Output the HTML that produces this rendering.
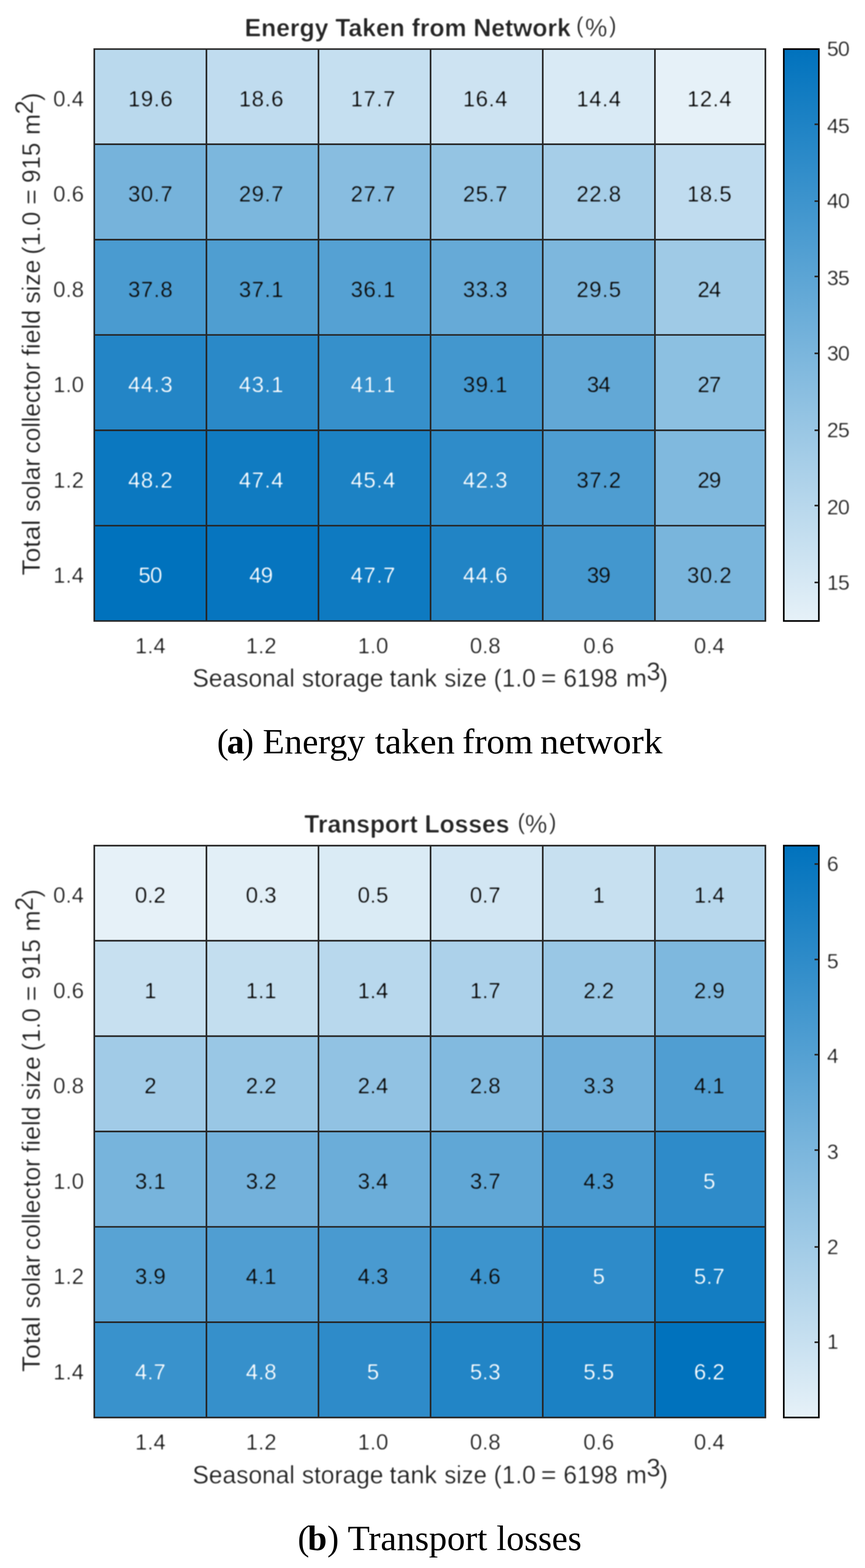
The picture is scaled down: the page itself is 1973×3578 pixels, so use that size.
<!DOCTYPE html>
<html lang="en">
<head>
<meta charset="utf-8">
<title>Heatmaps</title>
<style>
html,body{margin:0;padding:0;background:#fff;}
body{width:1973px;height:3578px;overflow:hidden;}
svg{display:block;}
text{font-family:"Liberation Sans",Arial,Helvetica,sans-serif;fill:#262626;}
.ct text{font-size:50.5px;fill:#0d0d0d;}
.ct text.w{fill:#f6fafd;}
.tk text{font-size:50.5px;}
.cb text{font-size:48.5px;}
text.n{letter-spacing:-1.6px;}
text.q{letter-spacing:1.2px;}
.lb{font-size:57.5px;}
.tt{font-size:57px;font-weight:bold;}
.pc{font-size:57px;}
.pp{font-size:51.5px;}
.cap{font-family:"Liberation Serif","Times New Roman",serif;font-size:79.5px;fill:#000;}
.cap .b{font-weight:bold;}
</style>
</head>
<body>
<svg width="1973" height="3578" viewBox="0 0 1973 3578">
<defs>
<filter id="bt" x="-5%" y="-5%" width="110%" height="110%" color-interpolation-filters="sRGB"><feGaussianBlur stdDeviation="1.2"/><feComponentTransfer><feFuncA type="linear" slope="1.7" intercept="-0.5"/></feComponentTransfer><feGaussianBlur stdDeviation="0.9"/></filter>
<filter id="bb" x="-5%" y="-5%" width="110%" height="110%" color-interpolation-filters="sRGB"><feGaussianBlur stdDeviation="1.3"/><feComponentTransfer><feFuncA type="linear" slope="1.9" intercept="-0.7"/></feComponentTransfer><feGaussianBlur stdDeviation="0.9"/></filter>
<filter id="bl" x="-5%" y="-5%" width="110%" height="110%" color-interpolation-filters="sRGB"><feGaussianBlur stdDeviation="0.35"/></filter>
<linearGradient id="cg" x1="0" y1="0" x2="0" y2="1">
<stop offset="0" stop-color="#0072bd"/>
<stop offset="1" stop-color="#e6f1f8"/>
</linearGradient>
</defs>
<rect width="1973" height="3578" fill="#fff"/>
<g transform="translate(0,0)">
<g filter="url(#bl)">
<rect x="215.05" y="112" width="256.3" height="217.6" fill="#bad9ed"/>
<rect x="470.85" y="112" width="256.1" height="217.6" fill="#c0dcef"/>
<rect x="726.45" y="112" width="256.15" height="217.6" fill="#c5dff0"/>
<rect x="982.1" y="112" width="256.4" height="217.6" fill="#cde3f2"/>
<rect x="1238" y="112" width="256.35" height="217.6" fill="#d9eaf5"/>
<rect x="1493.85" y="112" width="252.45" height="217.6" fill="#e6f1f8"/>
<rect x="215.05" y="329.1" width="256.3" height="218.2" fill="#76b3db"/>
<rect x="470.85" y="329.1" width="256.1" height="218.2" fill="#7cb7dd"/>
<rect x="726.45" y="329.1" width="256.15" height="218.2" fill="#88bde0"/>
<rect x="982.1" y="329.1" width="256.4" height="218.2" fill="#94c4e3"/>
<rect x="1238" y="329.1" width="256.35" height="218.2" fill="#a6cee8"/>
<rect x="1493.85" y="329.1" width="252.45" height="218.2" fill="#c0dcef"/>
<rect x="215.05" y="546.8" width="256.3" height="217.95" fill="#4a9bd0"/>
<rect x="470.85" y="546.8" width="256.1" height="217.95" fill="#4f9ed1"/>
<rect x="726.45" y="546.8" width="256.15" height="217.95" fill="#55a1d3"/>
<rect x="982.1" y="546.8" width="256.4" height="217.95" fill="#66aad7"/>
<rect x="1238" y="546.8" width="256.35" height="217.95" fill="#7db7dd"/>
<rect x="1493.85" y="546.8" width="252.45" height="217.95" fill="#9fcae6"/>
<rect x="215.05" y="764.25" width="256.3" height="218.15" fill="#2385c6"/>
<rect x="470.85" y="764.25" width="256.1" height="218.15" fill="#2a89c8"/>
<rect x="726.45" y="764.25" width="256.15" height="218.15" fill="#3690cb"/>
<rect x="982.1" y="764.25" width="256.4" height="218.15" fill="#4397ce"/>
<rect x="1238" y="764.25" width="256.35" height="218.15" fill="#62a8d6"/>
<rect x="1493.85" y="764.25" width="252.45" height="218.15" fill="#8cc0e1"/>
<rect x="215.05" y="981.9" width="256.3" height="218.1" fill="#0b78c0"/>
<rect x="470.85" y="981.9" width="256.1" height="218.1" fill="#107bc1"/>
<rect x="726.45" y="981.9" width="256.15" height="218.1" fill="#1c82c4"/>
<rect x="982.1" y="981.9" width="256.4" height="218.1" fill="#2f8cc9"/>
<rect x="1238" y="981.9" width="256.35" height="218.1" fill="#4e9dd1"/>
<rect x="1493.85" y="981.9" width="252.45" height="218.1" fill="#80b9de"/>
<rect x="215.05" y="1199.5" width="256.3" height="218" fill="#0072bd"/>
<rect x="470.85" y="1199.5" width="256.1" height="218" fill="#0675bf"/>
<rect x="726.45" y="1199.5" width="256.15" height="218" fill="#0e7ac1"/>
<rect x="982.1" y="1199.5" width="256.4" height="218" fill="#2184c5"/>
<rect x="1238" y="1199.5" width="256.35" height="218" fill="#4397ce"/>
<rect x="1493.85" y="1199.5" width="252.45" height="218" fill="#79b5dc"/>
<path d="M215.05 110.15V1418.85M213.2 112H1747.65M470.85 110.15V1418.85M213.2 329.1H1747.65M726.45 110.15V1418.85M213.2 546.8H1747.65M982.1 110.15V1418.85M213.2 764.25H1747.65M1238 110.15V1418.85M213.2 981.9H1747.65M1493.85 110.15V1418.85M213.2 1199.5H1747.65M1745.8 110.15V1418.85M213.2 1417H1747.65" stroke="#262626" stroke-width="3.7" fill="none"/>
</g>
<g filter="url(#bt)">
<g class="ct" text-anchor="middle">
<text class="q" x="343.55" y="242.55">19.6</text>
<text class="q" x="596.25" y="242.55">18.6</text>
<text class="q" x="851.38" y="242.55">17.7</text>
<text class="q" x="1107.35" y="242.55">16.4</text>
<text class="q" x="1366.32" y="242.55">14.4</text>
<text class="q" x="1618.52" y="242.55">12.4</text>
<text class="q" x="343.55" y="459.95">30.7</text>
<text class="q" x="596.25" y="459.95">29.7</text>
<text class="q" x="851.38" y="459.95">27.7</text>
<text class="q" x="1107.35" y="459.95">25.7</text>
<text class="q" x="1366.32" y="459.95">22.8</text>
<text class="q" x="1618.52" y="459.95">18.5</text>
<text class="q" x="343.55" y="677.52">37.8</text>
<text class="q" x="596.25" y="677.52">37.1</text>
<text class="q" x="851.38" y="677.52">36.1</text>
<text class="q" x="1107.35" y="677.52">33.3</text>
<text class="q" x="1366.32" y="677.52">29.5</text>
<text class="n" x="1617.12" y="677.52">24</text>
<text class="w q" x="343.55" y="895.08">44.3</text>
<text class="w q" x="596.25" y="895.08">43.1</text>
<text class="w q" x="851.38" y="895.08">41.1</text>
<text class="q" x="1107.35" y="895.08">39.1</text>
<text class="n" x="1364.92" y="895.08">34</text>
<text class="n" x="1617.12" y="895.08">27</text>
<text class="w q" x="343.55" y="1112.7">48.2</text>
<text class="w q" x="596.25" y="1112.7">47.4</text>
<text class="w q" x="851.38" y="1112.7">45.4</text>
<text class="w q" x="1107.35" y="1112.7">42.3</text>
<text class="q" x="1366.32" y="1112.7">37.2</text>
<text class="n" x="1617.12" y="1112.7">29</text>
<text class="w n" x="342.15" y="1330.25">50</text>
<text class="w n" x="594.85" y="1330.25">49</text>
<text class="w q" x="851.38" y="1330.25">47.7</text>
<text class="w q" x="1107.35" y="1330.25">44.6</text>
<text class="n" x="1364.92" y="1330.25">39</text>
<text class="q" x="1618.52" y="1330.25">30.2</text>
</g>
<g class="tk" text-anchor="middle">
<text x="342.95" y="1490.8">1.4</text>
<text x="595.65" y="1490.8">1.2</text>
<text x="850.78" y="1490.8">1.0</text>
<text x="1106.75" y="1490.8">0.8</text>
<text x="1365.72" y="1490.8">0.6</text>
<text x="1617.92" y="1490.8">0.4</text>
</g>
<g class="tk" text-anchor="end">
<text x="191.5" y="242.55">0.4</text>
<text x="191.5" y="459.95">0.6</text>
<text x="191.5" y="677.52">0.8</text>
<text x="191.5" y="895.08">1.0</text>
<text x="191.5" y="1112.7">1.2</text>
<text x="191.5" y="1330.25">1.4</text>
</g>
<text class="lb"><tspan x="439" y="1567.4" textLength="233.5" lengthAdjust="spacingAndGlyphs">Seasonal</tspan> <tspan x="688.5" y="1567.4" textLength="186" lengthAdjust="spacingAndGlyphs">storage</tspan> <tspan x="888.5" y="1567.4" textLength="108.5" lengthAdjust="spacingAndGlyphs">tank</tspan> <tspan x="1013.5" y="1567.4" textLength="97" lengthAdjust="spacingAndGlyphs">size</tspan> <tspan x="1126" y="1567.4" textLength="96" lengthAdjust="spacingAndGlyphs">(1.0</tspan> <tspan x="1233.5" y="1567.4" textLength="36" lengthAdjust="spacingAndGlyphs">=</tspan> <tspan x="1285" y="1567.4" textLength="124" lengthAdjust="spacingAndGlyphs">6198</tspan> <tspan x="1427.5" y="1567.4" textLength="48" lengthAdjust="spacingAndGlyphs">m</tspan><tspan x="1474.5" y="1551.6">3</tspan><tspan x="1504.5" y="1567.4">)</tspan></text>
<text class="lb" transform="translate(91,0) rotate(-90)"><tspan x="-1313.2" y="0" textLength="127" lengthAdjust="spacingAndGlyphs">Total</tspan> <tspan x="-1168" y="0" textLength="122" lengthAdjust="spacingAndGlyphs">solar</tspan> <tspan x="-1035" y="0" textLength="208.5" lengthAdjust="spacingAndGlyphs">collector</tspan> <tspan x="-812.5" y="0" textLength="105.5" lengthAdjust="spacingAndGlyphs">field</tspan> <tspan x="-693" y="0" textLength="100.3" lengthAdjust="spacingAndGlyphs">size</tspan> <tspan x="-581" y="0" textLength="98" lengthAdjust="spacingAndGlyphs">(1.0</tspan> <tspan x="-467.5" y="0" textLength="36" lengthAdjust="spacingAndGlyphs">=</tspan> <tspan x="-417.5" y="0" textLength="92" lengthAdjust="spacingAndGlyphs">915</tspan> <tspan x="-308" y="0" textLength="48" lengthAdjust="spacingAndGlyphs">m</tspan><tspan x="-261" y="-15.8">2</tspan><tspan x="-230.5" y="0">)</tspan></text>
</g>
<g filter="url(#bb)">
<text class="tt" x="558" y="82.5" textLength="744" lengthAdjust="spacingAndGlyphs">Energy Taken from Network</text>
</g>
<g filter="url(#bt)">
<text class="pc"><tspan class="pp" x="1314" y="75.3">(</tspan><tspan x="1334.5" y="82.5">%</tspan><tspan class="pp" x="1389" y="75.3">)</tspan></text>
</g>
<g filter="url(#bl)">
<rect x="1787.75" y="112" width="80" height="1305" fill="url(#cg)" stroke="#000" stroke-width="3.7"/>
<path d="M1857.9 283.6H1865.9M1857.9 459H1865.9M1857.9 630.9H1865.9M1857.9 806.4H1865.9M1857.9 981.95H1865.9M1857.9 1153.6H1865.9M1857.9 1329.2H1865.9" stroke="#262626" stroke-width="3.7" fill="none"/>
</g>
<g class="tk cb" filter="url(#bt)">
<text class="n" x="1886" y="127.7">50</text>
<text class="n" x="1886" y="303.5">45</text>
<text class="n" x="1886" y="475.3">40</text>
<text class="n" x="1886" y="651.1">35</text>
<text class="n" x="1886" y="822.9">30</text>
<text class="n" x="1886" y="998.2">25</text>
<text class="n" x="1886" y="1173.5">20</text>
<text class="n" x="1886" y="1345.5">15</text>
</g>
</g>
<text class="cap" y="1718.9"><tspan x="495">(</tspan><tspan class="b" x="517.5">a</tspan><tspan x="552.5">)</tspan> <tspan x="599.3" textLength="233.5" lengthAdjust="spacingAndGlyphs">Energy</tspan> <tspan x="855" textLength="182.5" lengthAdjust="spacingAndGlyphs">taken</tspan> <tspan x="1054.6" textLength="161" lengthAdjust="spacingAndGlyphs">from</tspan> <tspan x="1232" textLength="279" lengthAdjust="spacingAndGlyphs">network</tspan></text>
<g transform="translate(0,1817.6)">
<g filter="url(#bl)">
<rect x="215.05" y="112" width="256.3" height="217.6" fill="#e6f1f8"/>
<rect x="470.85" y="112" width="256.1" height="217.6" fill="#e2eff7"/>
<rect x="726.45" y="112" width="256.15" height="217.6" fill="#daebf5"/>
<rect x="982.1" y="112" width="256.4" height="217.6" fill="#d2e6f3"/>
<rect x="1238" y="112" width="256.35" height="217.6" fill="#c7e0f0"/>
<rect x="1493.85" y="112" width="252.45" height="217.6" fill="#b8d8ed"/>
<rect x="215.05" y="329.1" width="256.3" height="218.2" fill="#c7e0f0"/>
<rect x="470.85" y="329.1" width="256.1" height="218.2" fill="#c3deef"/>
<rect x="726.45" y="329.1" width="256.15" height="218.2" fill="#b8d8ed"/>
<rect x="982.1" y="329.1" width="256.4" height="218.2" fill="#acd1ea"/>
<rect x="1238" y="329.1" width="256.35" height="218.2" fill="#99c7e5"/>
<rect x="1493.85" y="329.1" width="252.45" height="218.2" fill="#7eb8de"/>
<rect x="215.05" y="546.8" width="256.3" height="217.95" fill="#a1cbe7"/>
<rect x="470.85" y="546.8" width="256.1" height="217.95" fill="#99c7e5"/>
<rect x="726.45" y="546.8" width="256.15" height="217.95" fill="#91c2e3"/>
<rect x="982.1" y="546.8" width="256.4" height="217.95" fill="#82badf"/>
<rect x="1238" y="546.8" width="256.35" height="217.95" fill="#6fafda"/>
<rect x="1493.85" y="546.8" width="252.45" height="217.95" fill="#509ed2"/>
<rect x="215.05" y="764.25" width="256.3" height="218.15" fill="#77b4dc"/>
<rect x="470.85" y="764.25" width="256.1" height="218.15" fill="#73b1db"/>
<rect x="726.45" y="764.25" width="256.15" height="218.15" fill="#6badd9"/>
<rect x="982.1" y="764.25" width="256.4" height="218.15" fill="#60a7d6"/>
<rect x="1238" y="764.25" width="256.35" height="218.15" fill="#499ad0"/>
<rect x="1493.85" y="764.25" width="252.45" height="218.15" fill="#2e8bc9"/>
<rect x="215.05" y="981.9" width="256.3" height="218.1" fill="#58a3d4"/>
<rect x="470.85" y="981.9" width="256.1" height="218.1" fill="#509ed2"/>
<rect x="726.45" y="981.9" width="256.15" height="218.1" fill="#499ad0"/>
<rect x="982.1" y="981.9" width="256.4" height="218.1" fill="#3d94cd"/>
<rect x="1238" y="981.9" width="256.35" height="218.1" fill="#2e8bc9"/>
<rect x="1493.85" y="981.9" width="252.45" height="218.1" fill="#137dc2"/>
<rect x="215.05" y="1199.5" width="256.3" height="218" fill="#3992cc"/>
<rect x="470.85" y="1199.5" width="256.1" height="218" fill="#3690cb"/>
<rect x="726.45" y="1199.5" width="256.15" height="218" fill="#2e8bc9"/>
<rect x="982.1" y="1199.5" width="256.4" height="218" fill="#2285c6"/>
<rect x="1238" y="1199.5" width="256.35" height="218" fill="#1b81c4"/>
<rect x="1493.85" y="1199.5" width="252.45" height="218" fill="#0072bd"/>
<path d="M215.05 110.15V1418.85M213.2 112H1747.65M470.85 110.15V1418.85M213.2 329.1H1747.65M726.45 110.15V1418.85M213.2 546.8H1747.65M982.1 110.15V1418.85M213.2 764.25H1747.65M1238 110.15V1418.85M213.2 981.9H1747.65M1493.85 110.15V1418.85M213.2 1199.5H1747.65M1745.8 110.15V1418.85M213.2 1417H1747.65" stroke="#262626" stroke-width="3.7" fill="none"/>
</g>
<g filter="url(#bt)">
<g class="ct" text-anchor="middle">
<text x="342.95" y="242.55">0.2</text>
<text x="595.65" y="242.55">0.3</text>
<text x="850.78" y="242.55">0.5</text>
<text x="1106.75" y="242.55">0.7</text>
<text x="1365.72" y="242.55">1</text>
<text x="1617.92" y="242.55">1.4</text>
<text x="342.95" y="459.95">1</text>
<text x="595.65" y="459.95">1.1</text>
<text x="850.78" y="459.95">1.4</text>
<text x="1106.75" y="459.95">1.7</text>
<text x="1365.72" y="459.95">2.2</text>
<text x="1617.92" y="459.95">2.9</text>
<text x="342.95" y="677.52">2</text>
<text x="595.65" y="677.52">2.2</text>
<text x="850.78" y="677.52">2.4</text>
<text x="1106.75" y="677.52">2.8</text>
<text x="1365.72" y="677.52">3.3</text>
<text x="1617.92" y="677.52">4.1</text>
<text x="342.95" y="895.08">3.1</text>
<text x="595.65" y="895.08">3.2</text>
<text x="850.78" y="895.08">3.4</text>
<text x="1106.75" y="895.08">3.7</text>
<text x="1365.72" y="895.08">4.3</text>
<text class="w" x="1617.92" y="895.08">5</text>
<text x="342.95" y="1112.7">3.9</text>
<text x="595.65" y="1112.7">4.1</text>
<text x="850.78" y="1112.7">4.3</text>
<text x="1106.75" y="1112.7">4.6</text>
<text class="w" x="1365.72" y="1112.7">5</text>
<text class="w" x="1617.92" y="1112.7">5.7</text>
<text class="w" x="342.95" y="1330.25">4.7</text>
<text class="w" x="595.65" y="1330.25">4.8</text>
<text class="w" x="850.78" y="1330.25">5</text>
<text class="w" x="1106.75" y="1330.25">5.3</text>
<text class="w" x="1365.72" y="1330.25">5.5</text>
<text class="w" x="1617.92" y="1330.25">6.2</text>
</g>
<g class="tk" text-anchor="middle">
<text x="342.95" y="1490.8">1.4</text>
<text x="595.65" y="1490.8">1.2</text>
<text x="850.78" y="1490.8">1.0</text>
<text x="1106.75" y="1490.8">0.8</text>
<text x="1365.72" y="1490.8">0.6</text>
<text x="1617.92" y="1490.8">0.4</text>
</g>
<g class="tk" text-anchor="end">
<text x="191.5" y="242.55">0.4</text>
<text x="191.5" y="459.95">0.6</text>
<text x="191.5" y="677.52">0.8</text>
<text x="191.5" y="895.08">1.0</text>
<text x="191.5" y="1112.7">1.2</text>
<text x="191.5" y="1330.25">1.4</text>
</g>
<text class="lb"><tspan x="439" y="1567.4" textLength="233.5" lengthAdjust="spacingAndGlyphs">Seasonal</tspan> <tspan x="688.5" y="1567.4" textLength="186" lengthAdjust="spacingAndGlyphs">storage</tspan> <tspan x="888.5" y="1567.4" textLength="108.5" lengthAdjust="spacingAndGlyphs">tank</tspan> <tspan x="1013.5" y="1567.4" textLength="97" lengthAdjust="spacingAndGlyphs">size</tspan> <tspan x="1126" y="1567.4" textLength="96" lengthAdjust="spacingAndGlyphs">(1.0</tspan> <tspan x="1233.5" y="1567.4" textLength="36" lengthAdjust="spacingAndGlyphs">=</tspan> <tspan x="1285" y="1567.4" textLength="124" lengthAdjust="spacingAndGlyphs">6198</tspan> <tspan x="1427.5" y="1567.4" textLength="48" lengthAdjust="spacingAndGlyphs">m</tspan><tspan x="1474.5" y="1551.6">3</tspan><tspan x="1504.5" y="1567.4">)</tspan></text>
<text class="lb" transform="translate(91,0) rotate(-90)"><tspan x="-1313.2" y="0" textLength="127" lengthAdjust="spacingAndGlyphs">Total</tspan> <tspan x="-1168" y="0" textLength="122" lengthAdjust="spacingAndGlyphs">solar</tspan> <tspan x="-1035" y="0" textLength="208.5" lengthAdjust="spacingAndGlyphs">collector</tspan> <tspan x="-812.5" y="0" textLength="105.5" lengthAdjust="spacingAndGlyphs">field</tspan> <tspan x="-693" y="0" textLength="100.3" lengthAdjust="spacingAndGlyphs">size</tspan> <tspan x="-581" y="0" textLength="98" lengthAdjust="spacingAndGlyphs">(1.0</tspan> <tspan x="-467.5" y="0" textLength="36" lengthAdjust="spacingAndGlyphs">=</tspan> <tspan x="-417.5" y="0" textLength="92" lengthAdjust="spacingAndGlyphs">915</tspan> <tspan x="-308" y="0" textLength="48" lengthAdjust="spacingAndGlyphs">m</tspan><tspan x="-261" y="-15.8">2</tspan><tspan x="-230.5" y="0">)</tspan></text>
</g>
<g filter="url(#bb)">
<text class="tt" x="694" y="82.5" textLength="468" lengthAdjust="spacingAndGlyphs">Transport Losses</text>
</g>
<g filter="url(#bt)">
<text class="pc"><tspan class="pp" x="1180.5" y="75.3">(</tspan><tspan x="1197.5" y="82.5">%</tspan><tspan class="pp" x="1252" y="75.3">)</tspan></text>
</g>
<g filter="url(#bl)">
<rect x="1787.75" y="112" width="80" height="1305" fill="url(#cg)" stroke="#000" stroke-width="3.7"/>
<path d="M1857.9 154.1H1865.9M1857.9 371.8H1865.9M1857.9 589H1865.9M1857.9 806.7H1865.9M1857.9 1027.8H1865.9M1857.9 1245.3H1865.9" stroke="#262626" stroke-width="3.7" fill="none"/>
</g>
<g class="tk cb" filter="url(#bt)">
<text x="1886" y="170.2">6</text>
<text x="1886" y="392">5</text>
<text x="1886" y="608.9">4</text>
<text x="1886" y="827.3">3</text>
<text x="1886" y="1044.3">2</text>
<text x="1886" y="1260.9">1</text>
</g>
</g>
<text class="cap" y="3537.3"><tspan x="679">(</tspan><tspan class="b" x="701.5">b</tspan><tspan x="746.5">)</tspan> <tspan x="793" textLength="318.5" lengthAdjust="spacingAndGlyphs">Transport</tspan> <tspan x="1132.5" textLength="194" lengthAdjust="spacingAndGlyphs">losses</tspan></text>
</svg>
</body>
</html>
